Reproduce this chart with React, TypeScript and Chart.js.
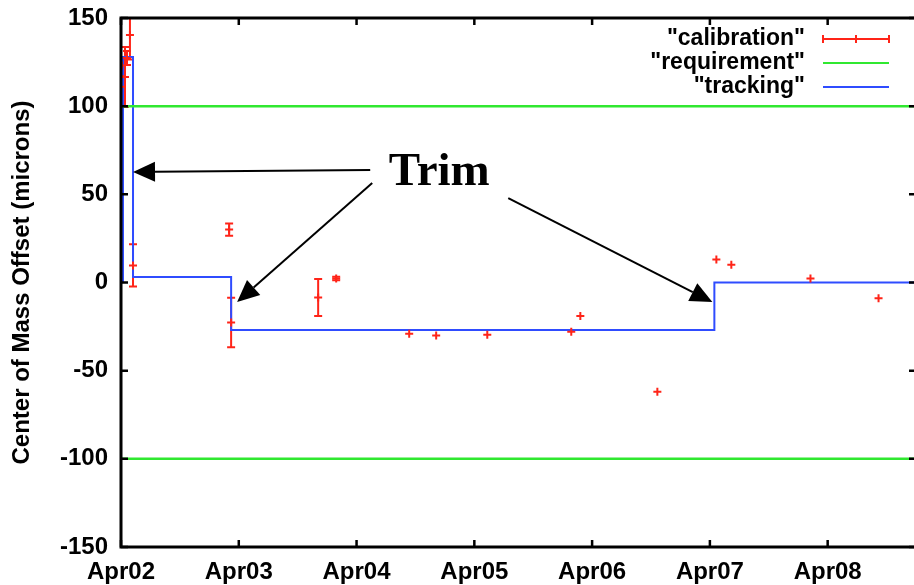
import React, { useEffect, useRef } from 'react';
import { Chart, registerables } from 'chart.js';

Chart.register(...registerables);

// Days are counted from Apr02 00:00.
const DAY_LABELS = ['Apr02', 'Apr03', 'Apr04', 'Apr05', 'Apr06', 'Apr07', 'Apr08'];
const X_MAX = 6.75;
const Y_TICKS = [-150, -100, -50, 0, 50, 100, 150];

// Calibration measurements (microns) with their error half-widths.
const CAL_DAY = [0.0, 0.0, 0.008, 0.034, 0.051, 0.076, 0.102, 0.918, 0.935, 1.674, 1.827, 2.447, 2.676, 3.11, 3.823, 3.9, 4.554, 5.055, 5.182, 5.854, 6.432];
const CAL_VALUE = [111, 117, 123, 116.5, 127.3, 140.4, 9.7, 30, -22.7, -8.5, 2.3, -29, -30, -29.6, -28, -19, -62, 13, 10, 2.2, -9];
const CAL_ERR = [3, 3, 3, 17, 4, 14, 12, 3.5, 14, 10.5, 1, 0, 0, 0, 0, 0, 0, 0, 0, 0, 0];

// Requirement band limits.
const REQ_LIMITS = [100, -100];

// Tracking offset, a step function changed at each trim.
const TRACK_DAY = [0.017, 0.017, 0.102, 0.935, 5.038, X_MAX];
const TRACK_VALUE = [0, 127.9, 3.1, -26.9, 0, 0];

// "Trim" annotation: label and arrows in data coordinates [day, value].
const TRIM_LABEL = { text: 'Trim', day: 2.702, value: 55.3 };
const TRIM_ARROW_FROM = [[2.116, 63.8], [2.133, 56.4], [3.288, 47.9]];
const TRIM_ARROW_TO = [[0.102, 62.7], [0.986, -11.1], [5.021, -11.1]];

const RED = '#ff2418';
const GREEN = '#30e830';
const BLUE = '#2f4cff';
const FONT_FAMILY = '"Liberation Sans", Arial, Helvetica, sans-serif';

const tickFont = { family: FONT_FAMILY, size: 24, weight: 'bold' as const };

function drawArrow(ctx: CanvasRenderingContext2D, fx: number, fy: number, tx: number, ty: number) {
  const ang = Math.atan2(ty - fy, tx - fx);
  const hl = 22;
  const hw = 10;
  const c = Math.cos(ang);
  const s = Math.sin(ang);
  const bx = tx - hl * c;
  const by = ty - hl * s;
  ctx.beginPath();
  ctx.moveTo(fx, fy);
  ctx.lineTo(bx, by);
  ctx.stroke();
  ctx.beginPath();
  ctx.moveTo(tx, ty);
  ctx.lineTo(bx - hw * s, by + hw * c);
  ctx.lineTo(bx + hw * s, by - hw * c);
  ctx.closePath();
  ctx.fill();
}

const overlayPlugin = {
  id: 'gnuplotOverlay',
  beforeDatasetsDraw(chart: any) {
    const { ctx, chartArea, scales } = chart;
    const xs = scales.x;
    const ys = scales.y;
    ctx.save();
    ctx.beginPath();
    ctx.rect(chartArea.left, chartArea.top, chartArea.right - chartArea.left, chartArea.bottom - chartArea.top);
    ctx.clip();
    ctx.strokeStyle = RED;
    ctx.lineWidth = 2;
    CAL_DAY.forEach((d, i) => {
      const e = CAL_ERR[i];
      if (!e) return;
      const x = xs.getPixelForValue(d);
      const y1 = ys.getPixelForValue(CAL_VALUE[i] + e);
      const y2 = ys.getPixelForValue(CAL_VALUE[i] - e);
      ctx.beginPath();
      ctx.moveTo(x, y1);
      ctx.lineTo(x, y2);
      ctx.moveTo(x - 4, y1);
      ctx.lineTo(x + 4, y1);
      ctx.moveTo(x - 4, y2);
      ctx.lineTo(x + 4, y2);
      ctx.stroke();
    });
    ctx.restore();
  },
  afterDatasetsDraw(chart: any) {
    const { ctx, chartArea, scales } = chart;
    const { left, right, top, bottom } = chartArea;
    const xs = scales.x;
    const ys = scales.y;
    ctx.save();

    // Frame with inward tick marks
    ctx.strokeStyle = '#000';
    ctx.lineWidth = 3;
    ctx.strokeRect(left, top, right - left, bottom - top);
    ctx.lineWidth = 2.5;
    ctx.beginPath();
    ys.ticks.forEach((t: any) => {
      const y = ys.getPixelForValue(t.value);
      ctx.moveTo(left, y);
      ctx.lineTo(left + 7, y);
      ctx.moveTo(right, y);
      ctx.lineTo(right - 7, y);
    });
    xs.ticks.forEach((t: any) => {
      const x = xs.getPixelForValue(t.value);
      ctx.moveTo(x, bottom);
      ctx.lineTo(x, bottom - 7);
      ctx.moveTo(x, top);
      ctx.lineTo(x, top + 7);
    });
    ctx.stroke();

    // Key
    const textRight = right - 111;
    const sx1 = right - 93;
    const sx2 = right - 27;
    ctx.font = `bold 23px ${FONT_FAMILY}`;
    ctx.textAlign = 'right';
    ctx.textBaseline = 'middle';
    chart.data.datasets.forEach((ds: any, i: number) => {
      const y = top + 21 + i * 24;
      ctx.fillStyle = '#000';
      ctx.fillText(`"${ds.label}"`, textRight, y);
      ctx.strokeStyle = ds.borderColor;
      ctx.lineWidth = 2;
      ctx.beginPath();
      ctx.moveTo(sx1, y);
      ctx.lineTo(sx2, y);
      if (i === 0) {
        const mx = (sx1 + sx2) / 2;
        ctx.moveTo(sx1, y - 4);
        ctx.lineTo(sx1, y + 4);
        ctx.moveTo(sx2, y - 4);
        ctx.lineTo(sx2, y + 4);
        ctx.moveTo(mx, y - 4);
        ctx.lineTo(mx, y + 4);
      }
      ctx.stroke();
    });

    // Trim annotation
    ctx.fillStyle = '#000';
    ctx.strokeStyle = '#000';
    ctx.lineWidth = 2;
    ctx.font = 'bold 47px "Liberation Serif", "Times New Roman", serif';
    ctx.textAlign = 'center';
    ctx.textBaseline = 'alphabetic';
    ctx.fillText(TRIM_LABEL.text, xs.getPixelForValue(TRIM_LABEL.day), ys.getPixelForValue(TRIM_LABEL.value));
    TRIM_ARROW_FROM.forEach((from, i) => {
      const to = TRIM_ARROW_TO[i];
      drawArrow(
        ctx,
        xs.getPixelForValue(from[0]),
        ys.getPixelForValue(from[1]),
        xs.getPixelForValue(to[0]),
        ys.getPixelForValue(to[1])
      );
    });
    ctx.restore();
  },
};

export default function App() {
  const canvasRef = useRef<HTMLCanvasElement | null>(null);

  useEffect(() => {
    const canvas = canvasRef.current;
    if (!canvas) return;

    const calibration = CAL_DAY.map((d, i) => ({ x: d, y: CAL_VALUE[i] }));
    const requirement: any[] = [];
    REQ_LIMITS.forEach((v, i) => {
      if (i > 0) requirement.push({ x: X_MAX, y: null });
      requirement.push({ x: 0, y: v }, { x: X_MAX, y: v });
    });
    const tracking = TRACK_DAY.map((d, i) => ({ x: d, y: TRACK_VALUE[i] }));

    const chart = new Chart(canvas, {
      type: 'scatter',
      data: {
        datasets: [
          {
            label: 'calibration',
            data: calibration,
            borderColor: RED,
            backgroundColor: RED,
            pointStyle: 'cross',
            pointRadius: 4,
            pointBorderWidth: 2,
            showLine: false,
          } as any,
          {
            type: 'line',
            label: 'requirement',
            data: requirement,
            borderColor: GREEN,
            borderWidth: 2.5,
            pointRadius: 0,
            spanGaps: false,
          } as any,
          {
            type: 'line',
            label: 'tracking',
            data: tracking,
            borderColor: BLUE,
            borderWidth: 2,
            pointRadius: 0,
            stepped: 'before',
          } as any,
        ],
      },
      options: {
        animation: false,
        responsive: false,
        devicePixelRatio: 1,
        events: [],
        layout: { autoPadding: false, padding: { top: 18, right: 3, left: 0, bottom: 0 } },
        plugins: {
          legend: { display: false },
          tooltip: { enabled: false },
        },
        scales: {
          x: {
            type: 'linear',
            min: 0,
            max: X_MAX,
            afterBuildTicks: (s: any) => {
              s.ticks = DAY_LABELS.map((_, i) => ({ value: i }));
            },
            afterFit: (s: any) => {
              s.height = 38;
              s.paddingLeft = 0;
              s.paddingRight = 0;
            },
            grid: { display: false, drawTicks: false },
            border: { display: false },
            ticks: {
              autoSkip: false,
              maxRotation: 0,
              padding: 11,
              color: '#000',
              font: tickFont,
              callback: (v: any) => DAY_LABELS[Math.round(Number(v))],
            },
          },
          y: {
            type: 'linear',
            min: -150,
            max: 150,
            afterBuildTicks: (s: any) => {
              s.ticks = Y_TICKS.map((v) => ({ value: v }));
            },
            afterFit: (s: any) => {
              s.width = 121;
              s.paddingTop = 0;
              s.paddingBottom = 0;
            },
            grid: { display: false, drawTicks: false },
            border: { display: false },
            ticks: {
              padding: 13,
              color: '#000',
              font: tickFont,
              callback: (v: any) => String(v),
            },
            title: {
              display: true,
              text: 'Center of Mass Offset (microns)',
              color: '#000',
              font: tickFont,
              padding: { top: 8, bottom: 0 },
            },
          },
        },
      } as any,
      plugins: [overlayPlugin],
    });

    return () => chart.destroy();
  }, []);

  return (
    <div
      style={{
        position: 'fixed',
        left: 0,
        top: 0,
        width: 914,
        height: 585,
        overflow: 'hidden',
        background: '#fff',
      }}
    >
      <canvas ref={canvasRef} width={919} height={585} style={{ width: 919, height: 585, display: 'block' }} />
    </div>
  );
}
